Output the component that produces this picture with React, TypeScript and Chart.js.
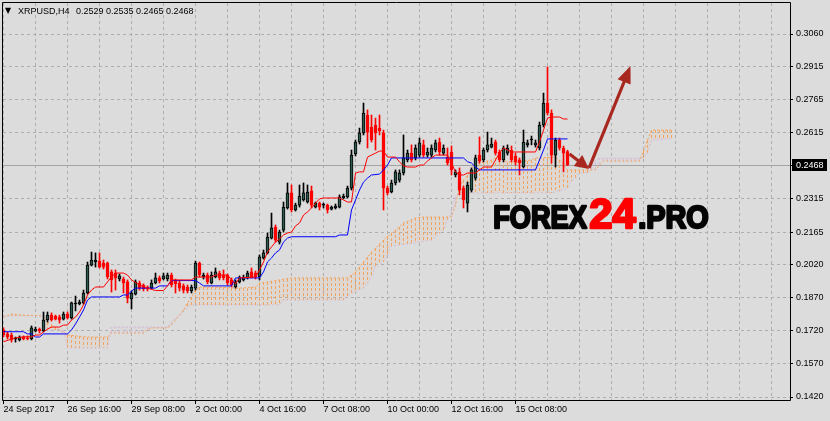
import { useEffect, useRef } from "react";
import { Chart, registerables } from "chart.js";

Chart.register(...registerables);

// ---------- DATA ----------
const symbolName = "XRPUSD,H4";
const timeLabels = ["24 Sep 2017", "26 Sep 16:00", "29 Sep 08:00", "2 Oct 00:00", "4 Oct 16:00", "7 Oct 08:00", "10 Oct 00:00", "12 Oct 16:00", "15 Oct 08:00"];
const timeLabelBars = [0, 16, 32, 48, 64, 80, 96, 112, 128];
const gridBars = [0, 8, 16, 24, 32, 40, 48, 56, 64, 72, 80, 88, 96, 104, 112, 120, 128, 136, 144, 152, 160, 168, 176, 184, 192];
const priceTicks = [0.306, 0.2915, 0.2765, 0.2615, 0.2465, 0.2315, 0.2165, 0.202, 0.187, 0.172, 0.157, 0.142];

const opens = [
  0.1723, 0.1705, 0.1700, 0.1682, 0.1678, 0.1691, 0.1687, 0.1682, 0.1718, 0.1727,
  0.1718, 0.1768, 0.1790, 0.1786, 0.1781, 0.1772, 0.1795, 0.1777, 0.1840, 0.1840,
  0.1845, 0.1890, 0.2016, 0.2030, 0.2034, 0.2025, 0.2025, 0.1985, 0.1980, 0.1953,
  0.1953, 0.1940, 0.1863, 0.1885, 0.1935, 0.1926, 0.1917, 0.1912, 0.1935, 0.1958,
  0.1953, 0.1953, 0.1971, 0.1944, 0.1935, 0.1922, 0.1917, 0.1899, 0.1912, 0.2025,
  0.1962, 0.1971, 0.1935, 0.1962, 0.1980, 0.1971, 0.1971, 0.1949, 0.1917, 0.1940,
  0.1949, 0.1958, 0.1985, 0.1980, 0.1962, 0.2048, 0.2071, 0.2138, 0.2188, 0.2120,
  0.2174, 0.2274, 0.2342, 0.2265, 0.2287, 0.2310, 0.2301, 0.2351, 0.2278, 0.2296,
  0.2287, 0.2287, 0.2269, 0.2274, 0.2278, 0.2319, 0.2324, 0.2364, 0.2518, 0.2572,
  0.2613, 0.2694, 0.2640, 0.2649, 0.2635, 0.2613, 0.2364, 0.2346, 0.2387, 0.2400,
  0.2432, 0.2491, 0.2522, 0.2500, 0.2513, 0.2559, 0.2513, 0.2513, 0.2536, 0.2572,
  0.2522, 0.2504, 0.2527, 0.2423, 0.2437, 0.2364, 0.2296, 0.2355, 0.2409, 0.2513,
  0.2491, 0.2536, 0.2549, 0.2572, 0.2527, 0.2491, 0.2522, 0.2536, 0.2509, 0.2491,
  0.2459, 0.2559, 0.2581, 0.2559, 0.2545, 0.2649, 0.2748, 0.2703, 0.2513, 0.2581,
  0.2545, 0.2529,
];
const highs = [
  0.1732, 0.1714, 0.1709, 0.1691, 0.1696, 0.1696, 0.1696, 0.1741, 0.1736, 0.1732,
  0.1804, 0.1804, 0.1800, 0.1790, 0.1790, 0.1804, 0.1804, 0.1849, 0.1876, 0.1858,
  0.1903, 0.2030, 0.2075, 0.2071, 0.2071, 0.2039, 0.2030, 0.1994, 0.1994, 0.1976,
  0.1962, 0.1949, 0.1899, 0.1949, 0.1944, 0.1931, 0.1922, 0.1949, 0.1980, 0.1967,
  0.1980, 0.1980, 0.1980, 0.1953, 0.1944, 0.1931, 0.1926, 0.1926, 0.2034, 0.2030,
  0.1980, 0.1980, 0.1985, 0.2003, 0.1989, 0.1994, 0.1976, 0.1958, 0.1949, 0.1967,
  0.1971, 0.1989, 0.2003, 0.1989, 0.2062, 0.2084, 0.2161, 0.2251, 0.2197, 0.2174,
  0.2301, 0.2387, 0.2378, 0.2296, 0.2378, 0.2387, 0.2378, 0.2373, 0.2301, 0.2301,
  0.2296, 0.2292, 0.2283, 0.2292, 0.2333, 0.2337, 0.2373, 0.2536, 0.2581, 0.2635,
  0.2748, 0.2717, 0.2694, 0.2680, 0.2694, 0.2626, 0.2373, 0.2400, 0.2446, 0.2446,
  0.2604, 0.2536, 0.2559, 0.2559, 0.2590, 0.2581, 0.2545, 0.2559, 0.2581, 0.2590,
  0.2559, 0.2545, 0.2554, 0.2446, 0.2455, 0.2373, 0.2391, 0.2455, 0.2513, 0.2595,
  0.2545, 0.2617, 0.2590, 0.2581, 0.2536, 0.2554, 0.2559, 0.2554, 0.2522, 0.2500,
  0.2626, 0.2581, 0.2599, 0.2581, 0.2662, 0.2793, 0.2911, 0.2717, 0.2590, 0.2590,
  0.2554, 0.2535,
];
const lows = [
  0.1691, 0.1682, 0.1668, 0.1668, 0.1673, 0.1678, 0.1678, 0.1678, 0.1714, 0.1709,
  0.1714, 0.1759, 0.1763, 0.1768, 0.1754, 0.1768, 0.1772, 0.1772, 0.1809, 0.1836,
  0.1840, 0.1885, 0.2012, 0.2007, 0.2003, 0.1998, 0.1953, 0.1894, 0.1903, 0.1944,
  0.1890, 0.1845, 0.1818, 0.1881, 0.1903, 0.1899, 0.1899, 0.1908, 0.1931, 0.1935,
  0.1949, 0.1944, 0.1917, 0.1890, 0.1899, 0.1890, 0.1890, 0.1890, 0.1903, 0.1962,
  0.1953, 0.1931, 0.1931, 0.1958, 0.1949, 0.1949, 0.1926, 0.1917, 0.1912, 0.1935,
  0.1944, 0.1953, 0.1958, 0.1953, 0.1949, 0.2043, 0.2066, 0.2134, 0.2120, 0.2111,
  0.2165, 0.2269, 0.2256, 0.2260, 0.2278, 0.2305, 0.2296, 0.2274, 0.2274, 0.2265,
  0.2274, 0.2251, 0.2265, 0.2269, 0.2274, 0.2315, 0.2319, 0.2355, 0.2509, 0.2563,
  0.2604, 0.2545, 0.2572, 0.2536, 0.2604, 0.2265, 0.2333, 0.2342, 0.2378, 0.2391,
  0.2423, 0.2482, 0.2482, 0.2491, 0.2504, 0.2504, 0.2504, 0.2504, 0.2527, 0.2513,
  0.2513, 0.2468, 0.2423, 0.2414, 0.2333, 0.2274, 0.2256, 0.2346, 0.2400, 0.2477,
  0.2482, 0.2527, 0.2545, 0.2513, 0.2482, 0.2482, 0.2513, 0.2482, 0.2468, 0.2423,
  0.2455, 0.2549, 0.2559, 0.2549, 0.2536, 0.2640, 0.2694, 0.2477, 0.2459, 0.2536,
  0.2437, 0.2465,
];
const closes = [
  0.1700, 0.1691, 0.1678, 0.1682, 0.1691, 0.1682, 0.1682, 0.1732, 0.1727, 0.1718,
  0.1768, 0.1790, 0.1768, 0.1772, 0.1768, 0.1795, 0.1777, 0.1845, 0.1840, 0.1849,
  0.1890, 0.2016, 0.2039, 0.2039, 0.2007, 0.2007, 0.1962, 0.1949, 0.1958, 0.1967,
  0.1935, 0.1867, 0.1890, 0.1940, 0.1912, 0.1908, 0.1908, 0.1935, 0.1958, 0.1944,
  0.1967, 0.1971, 0.1926, 0.1931, 0.1912, 0.1903, 0.1899, 0.1917, 0.2025, 0.1971,
  0.1971, 0.1940, 0.1971, 0.1985, 0.1958, 0.1958, 0.1935, 0.1926, 0.1940, 0.1958,
  0.1962, 0.1980, 0.1962, 0.1962, 0.2053, 0.2071, 0.2143, 0.2184, 0.2129, 0.2165,
  0.2278, 0.2342, 0.2265, 0.2287, 0.2328, 0.2342, 0.2346, 0.2287, 0.2296, 0.2278,
  0.2287, 0.2265, 0.2278, 0.2283, 0.2324, 0.2328, 0.2364, 0.2513, 0.2572, 0.2613,
  0.2703, 0.2617, 0.2581, 0.2613, 0.2622, 0.2364, 0.2342, 0.2387, 0.2437, 0.2432,
  0.2500, 0.2522, 0.2491, 0.2545, 0.2568, 0.2513, 0.2527, 0.2545, 0.2568, 0.2527,
  0.2545, 0.2477, 0.2446, 0.2437, 0.2355, 0.2310, 0.2378, 0.2446, 0.2500, 0.2486,
  0.2536, 0.2559, 0.2563, 0.2522, 0.2491, 0.2545, 0.2545, 0.2491, 0.2482, 0.2477,
  0.2572, 0.2568, 0.2581, 0.2568, 0.2649, 0.2748, 0.2703, 0.2513, 0.2581, 0.2545,
  0.2522, 0.2468,
];

// Ichimoku lines: [bar index, price] vertices
const tenkanPts: [number, number][] = [
  [0, 0.1670], [3, 0.1687], [5, 0.1692], [7, 0.1692], [8, 0.1700], [9, 0.1700], [10, 0.1714], [11, 0.1727], [12, 0.1736], [14, 0.1736],
  [15, 0.1745], [16, 0.1745], [17, 0.1768], [18, 0.1781], [19, 0.1804], [20, 0.1836], [21, 0.1881], [22, 0.1903], [23, 0.1917], [25, 0.1917],
  [26, 0.1940], [27, 0.1962], [28, 0.1980], [30, 0.1980], [31, 0.1971], [32, 0.1949], [34, 0.1926], [36, 0.1912], [38, 0.1901], [40, 0.1901],
  [41, 0.1922], [42, 0.1949], [47, 0.1949], [48, 0.1962], [52, 0.1962], [53, 0.1971], [56, 0.1971], [57, 0.1949], [58, 0.1931], [59, 0.1958],
  [63, 0.1962], [64, 0.1994], [65, 0.2030], [66, 0.2075], [67, 0.2098], [68, 0.2120], [69, 0.2134], [70, 0.2152], [71, 0.2161], [72, 0.2165],
  [73, 0.2193], [74, 0.2206], [75, 0.2242], [76, 0.2256], [77, 0.2274], [78, 0.2296], [79, 0.2315], [80, 0.2319], [84, 0.2319], [85, 0.2310],
  [86, 0.2301], [87, 0.2301], [88, 0.2432], [89, 0.2437], [90, 0.2437], [91, 0.2504], [92, 0.2513], [93, 0.2522], [94, 0.2531], [95, 0.2531],
  [96, 0.2504], [98, 0.2504], [99, 0.2482], [100, 0.2464], [101, 0.2459], [103, 0.2459], [104, 0.2468], [105, 0.2468], [106, 0.2486], [107, 0.2500],
  [108, 0.2513], [111, 0.2513], [112, 0.2477], [113, 0.2437], [114, 0.2423], [115, 0.2423], [116, 0.2432], [118, 0.2432], [119, 0.2446], [120, 0.2459],
  [122, 0.2459], [123, 0.2491], [124, 0.2522], [125, 0.2545], [126, 0.2536], [127, 0.2527], [133, 0.2527], [134, 0.2572], [135, 0.2626], [136, 0.2680],
  [137, 0.2685], [139, 0.2685], [140, 0.2676], [141, 0.2676],
];
const kijunPts: [number, number][] = [
  [0, 0.1715], [5, 0.1715], [6, 0.1705], [7, 0.1705], [8, 0.1691], [9, 0.1691], [10, 0.1705], [16, 0.1705], [17, 0.1723], [18, 0.1750],
  [19, 0.1781], [20, 0.1813], [21, 0.1858], [22, 0.1872], [29, 0.1872], [30, 0.1881], [31, 0.1881], [32, 0.1899], [33, 0.1912], [38, 0.1912],
  [39, 0.1922], [41, 0.1922], [42, 0.1946], [48, 0.1946], [49, 0.1935], [50, 0.1922], [57, 0.1922], [58, 0.1958], [64, 0.1958], [65, 0.1985],
  [66, 0.2030], [67, 0.2048], [68, 0.2071], [69, 0.2084], [70, 0.2120], [71, 0.2138], [72, 0.2144], [83, 0.2144], [84, 0.2152], [86, 0.2152],
  [87, 0.2265], [88, 0.2310], [89, 0.2355], [90, 0.2391], [91, 0.2409], [92, 0.2423], [94, 0.2427], [95, 0.2446], [96, 0.2468], [97, 0.2500],
  [115, 0.2500], [116, 0.2483], [117, 0.2477], [118, 0.2459], [119, 0.2446], [133, 0.2446], [134, 0.2491], [135, 0.2536], [136, 0.2586], [141, 0.2586],
];
const senkouAPts: [number, number][] = [
  [0, 0.1781], [2, 0.1795], [5, 0.1790], [10, 0.1786], [11, 0.1759], [14, 0.1723], [16, 0.1700], [21, 0.1691], [26, 0.1691], [27, 0.1709],
  [35, 0.1709], [36, 0.1723], [37, 0.1732], [41, 0.1732], [42, 0.1745], [43, 0.1768], [44, 0.1790], [45, 0.1813], [46, 0.1845], [47, 0.1872],
  [48, 0.1903], [49, 0.1917], [52, 0.1917], [59, 0.1912], [63, 0.1917], [64, 0.1935], [66, 0.1940], [69, 0.1949], [72, 0.1958], [86, 0.1958],
  [88, 0.1985], [90, 0.2030], [92, 0.2075], [94, 0.2111], [96, 0.2147], [98, 0.2174], [100, 0.2206], [103, 0.2229], [105, 0.2233], [112, 0.2233],
  [113, 0.2287], [114, 0.2373], [115, 0.2400], [116, 0.2423], [117, 0.2455], [118, 0.2473], [120, 0.2482], [122, 0.2491], [123, 0.2500], [124, 0.2500],
  [125, 0.2491], [126, 0.2482], [129, 0.2482], [132, 0.2491], [133, 0.2500], [138, 0.2504], [139, 0.2491], [140, 0.2473], [141, 0.2446], [148, 0.2446],
  [149, 0.2468], [150, 0.2486], [159, 0.2486], [160, 0.2531], [161, 0.2581], [162, 0.2626], [167, 0.2626],
];
const senkouBPts: [number, number][] = [
  [0, 0.1786], [10, 0.1786], [11, 0.1723], [15, 0.1723], [16, 0.1641], [26, 0.1641], [27, 0.1736], [41, 0.1736], [42, 0.1759], [44, 0.1790],
  [46, 0.1822], [47, 0.1836], [69, 0.1836], [70, 0.1858], [85, 0.1858], [87, 0.1890], [90, 0.1912], [91, 0.1935], [92, 0.1962], [93, 0.2012],
  [95, 0.2030], [96, 0.2057], [97, 0.2102], [103, 0.2116], [107, 0.2129], [110, 0.2174], [111, 0.2220], [112, 0.2265], [113, 0.2324], [114, 0.2342],
  [137, 0.2342], [139, 0.2351], [141, 0.2364], [142, 0.2396], [143, 0.2409], [144, 0.2432], [146, 0.2432], [147, 0.2455], [148, 0.2491], [149, 0.2500],
  [160, 0.2500], [161, 0.2522], [162, 0.2581], [167, 0.2586],
];

// hand-drawn arrows: [fromBar, fromPrice, toBar, toPrice]
const arrowPts: [number, number, number, number][] = [
  [141.5, 0.2518, 146.4, 0.2450],
  [146.4, 0.2455, 156.75, 0.2915],
];
// watermark parts: text, colour
const watermarkParts: [string, string][] = [["FOREX", "#050505"], ["24", "#ff0000"], [".PRO", "#050505"]];

// ---------- STYLE ----------
const BG = "#dcdcdc";
const GRID = "#aeaeae";
const BULL = "#2f5a4f";
const BEAR = "#ff0000";
const ORANGE = "#f4a460";
const THISTLE = "#d8bfd8";
const FONT = '"Liberation Sans", Arial, sans-serif';
// watermark layout per part: left x, target width, font size
const wmLayout = [
  { x: 492, w: 96, size: 32 },
  { x: 588, w: 49, size: 42 },
  { x: 637, w: 73, size: 32 },
];

function toXY(pts: [number, number][]) {
  return pts.map(([x, y]) => ({ x, y }));
}

export default function App() {
  const ref = useRef<HTMLCanvasElement>(null);

  useEffect(() => {
    const canvas = ref.current!;

    const dir = opens.map((o, i) => (closes[i] > o ? 1 : closes[i] < o ? -1 : 0));
    const bodyData = opens.map((o, i) => ({ x: i, y: [o, closes[i]] }));
    const wickData = opens.map((o, i) => ({ x: i, y: [lows[i], highs[i]] }));

    const last = closes.length - 1;
    const cloudFirst = senkouAPts[0][0];
    const cloudLast = senkouAPts[senkouAPts.length - 1][0];

    const overlay = {
      id: "overlay",
      beforeDraw(chart: any) {
        const c = chart.ctx;
        c.save();
        c.fillStyle = BG;
        c.fillRect(0, 0, chart.width, chart.height);
        c.restore();
      },
      beforeDatasetsDraw(chart: any) {
        const c = chart.ctx;
        const a = chart.chartArea;
        const xs = chart.scales.x;
        c.save();
        c.beginPath();
        c.rect(a.left, a.top, a.right - a.left, a.bottom - a.top);
        c.clip();
        // bid line
        const y = Math.round(chart.scales.y.getPixelForValue(closes[last])) + 0.5;
        c.strokeStyle = "#a3a3a3";
        c.lineWidth = 1;
        c.beginPath();
        c.moveTo(a.left, y);
        c.lineTo(a.right, y);
        c.stroke();
        // cloud hatch: vertical dotted lines between span A and span B at each bar
        const lineB = chart.getDatasetMeta(0).dataset;
        const lineA = chart.getDatasetMeta(1).dataset;
        c.setLineDash([3, 2]);
        for (let j = cloudFirst; j <= cloudLast; j++) {
          const px = xs.getPixelForValue(j);
          let pa = lineA.interpolate({ x: px }, "x");
          let pb = lineB.interpolate({ x: px }, "x");
          if (Array.isArray(pa)) pa = pa[0];
          if (Array.isArray(pb)) pb = pb[0];
          if (!pa || !pb) continue;
          c.strokeStyle = pa.y <= pb.y ? ORANGE : THISTLE;
          c.beginPath();
          c.moveTo(px, Math.round(pa.y));
          c.lineTo(px, Math.round(pb.y));
          c.stroke();
        }
        c.restore();
      },
      afterDraw(chart: any) {
        const c = chart.ctx;
        const a = chart.chartArea;
        const xs = chart.scales.x;
        const ys = chart.scales.y;
        c.save();
        // frame
        c.strokeStyle = "#000";
        c.lineWidth = 1;
        c.beginPath();
        c.moveTo(a.left - 0.5, a.top - 0.5);
        c.lineTo(a.right + 0.5, a.top - 0.5);
        c.lineTo(a.right + 0.5, a.bottom + 0.5);
        c.lineTo(a.left - 0.5, a.bottom + 0.5);
        c.closePath();
        c.stroke();

        // current price box
        const py = ys.getPixelForValue(closes[last]);
        c.fillStyle = "#000";
        c.fillRect(a.right + 2, Math.round(py) - 6, 35, 12);
        c.fillStyle = "#fff";
        c.font = `9px ${FONT}`;
        c.textBaseline = "middle";
        c.textAlign = "left";
        c.fillText(closes[last].toFixed(4), a.right + 6, Math.round(py) + 0.5);

        // header
        c.fillStyle = "#000";
        c.textBaseline = "alphabetic";
        c.font = '8px "DejaVu Sans"';
        c.fillText("\u25BC", 5, 13);
        c.font = `9px ${FONT}`;
        c.fillText(symbolName, 18, 13.5);
        const ohlc = [opens[last], highs[last], lows[last], closes[last]].map((v) => v.toFixed(4)).join(" ");
        c.fillText(ohlc, 76, 13.5);

        // arrows
        c.fillStyle = "#a8281f";
        c.strokeStyle = "#a8281f";
        arrowPts.forEach(([b1, p1, b2, p2], k) => {
          const x1 = xs.getPixelForValue(b1), y1 = ys.getPixelForValue(p1);
          const x2 = xs.getPixelForValue(b2), y2 = ys.getPixelForValue(p2);
          const ang = Math.atan2(y2 - y1, x2 - x1);
          const hl = k === 0 ? 14 : 17;
          const hw = 7;
          const bx = x2 - hl * Math.cos(ang), by = y2 - hl * Math.sin(ang);
          c.lineWidth = 3.2;
          c.beginPath();
          c.moveTo(x1, y1);
          c.lineTo(bx + 2 * Math.cos(ang), by + 2 * Math.sin(ang));
          c.stroke();
          c.beginPath();
          c.moveTo(x2, y2);
          c.lineTo(bx + hw * Math.sin(ang), by - hw * Math.cos(ang));
          c.lineTo(bx - hw * Math.sin(ang), by + hw * Math.cos(ang));
          c.closePath();
          c.fill();
        });

        // watermark
        c.lineJoin = "round";
        c.lineWidth = 2.4;
        c.textBaseline = "alphabetic";
        watermarkParts.forEach(([t, col], i) => {
          const L = wmLayout[i];
          c.save();
          c.font = `bold ${L.size}px ${FONT}`;
          const w = c.measureText(t).width;
          c.translate(L.x + 1.2, 228);
          c.scale((L.w - 2.4) / w, 1);
          c.fillStyle = col;
          c.strokeStyle = col;
          c.fillText(t, 0, 0);
          c.strokeText(t, 0, 0);
          c.restore();
        });
        c.restore();
      },
    };

    const chart = new Chart(canvas, {
      type: "line",
      data: {
        datasets: [
          {
            type: "line",
            data: toXY(senkouBPts),
            borderColor: THISTLE,
            borderWidth: 1,
            borderDash: [2, 2],
            pointRadius: 0,
            fill: false,
            order: 5,
            clip: 0,
          } as any,
          {
            type: "line",
            data: toXY(senkouAPts),
            borderColor: ORANGE,
            borderWidth: 1,
            borderDash: [2, 2],
            pointRadius: 0,
            fill: { target: 0, above: "rgba(244,164,96,0.07)", below: "rgba(216,191,216,0.12)" },
            order: 4,
            clip: 0,
          } as any,
          {
            type: "bar",
            data: wickData,
            backgroundColor: dir.map((d) => (d < 0 ? BEAR : "#000")),
            borderWidth: 0,
            barThickness: 1,
            grouped: false,
            minBarLength: 1,
            order: 3,
            clip: 0,
          } as any,
          {
            type: "bar",
            data: bodyData,
            backgroundColor: dir.map((d) => (d > 0 ? BULL : d < 0 ? BEAR : "#000")),
            borderColor: dir.map((d) => (d < 0 ? BEAR : "#000")),
            borderWidth: 1,
            borderSkipped: false,
            barThickness: 3,
            grouped: false,
            minBarLength: 1,
            order: 2,
            clip: 0,
          } as any,
          {
            type: "line",
            data: toXY(kijunPts),
            borderColor: "#0000ff",
            borderWidth: 1,
            pointRadius: 0,
            fill: false,
            order: 1,
            clip: 0,
          } as any,
          {
            type: "line",
            data: toXY(tenkanPts),
            borderColor: "#ff0000",
            borderWidth: 1,
            pointRadius: 0,
            fill: false,
            order: 0,
            clip: 0,
          } as any,
        ],
      },
      options: {
        responsive: false,
        animation: false,
        devicePixelRatio: 1,
        events: [],
        layout: { padding: { left: 3, top: 3, right: 0, bottom: 0 } },
        plugins: {
          legend: { display: false },
          tooltip: { enabled: false },
        },
        scales: {
          x: {
            type: "linear",
            min: -0.125,
            max: 196.625,
            offset: false,
            bounds: "data",
            afterBuildTicks: (s: any) => {
              s.ticks = gridBars.map((v) => ({ value: v }));
            },
            afterFit: (s: any) => {
              s.height = 21;
              s.paddingLeft = 0;
              s.paddingRight = 0;
            },
            ticks: {
              autoSkip: false,
              maxRotation: 0,
              minRotation: 0,
              align: "start",
              padding: 0,
              color: "#000",
              font: { family: FONT, size: 9 },
              callback: (v: any) => {
                const k = timeLabelBars.indexOf(Number(v));
                return k >= 0 ? timeLabels[k] : "";
              },
            },
            grid: {
              offset: false,
              color: GRID,
              lineWidth: 1,
              drawTicks: true,
              tickLength: 4,
              tickBorderDash: [],
              tickColor: (ctx: any) =>
                ctx.tick && timeLabelBars.indexOf(ctx.tick.value) >= 0 ? "#000" : "rgba(0,0,0,0)",
            },
            border: { display: false, dash: [3, 3] },
          } as any,
          y: {
            type: "linear",
            position: "right",
            min: 0.140645,
            max: 0.320006,
            bounds: "data",
            afterBuildTicks: (s: any) => {
              s.ticks = priceTicks.map((v) => ({ value: v }));
            },
            afterFit: (s: any) => {
              s.width = 40;
              s.paddingTop = 0;
              s.paddingBottom = 0;
            },
            ticks: {
              padding: 3,
              color: "#000",
              font: { family: FONT, size: 9 },
              callback: (v: any) => Number(v).toFixed(4),
            },
            grid: {
              color: GRID,
              lineWidth: 1,
              drawTicks: true,
              tickLength: 3,
              tickBorderDash: [],
              tickColor: "#000",
            },
            border: { display: false, dash: [3, 3] },
          } as any,
        },
      },
      plugins: [overlay],
    } as any);

    return () => chart.destroy();
  }, []);

  return (
    <div style={{ position: "fixed", left: 0, top: 0, width: 830, height: 421 }}>
      <canvas ref={ref} width={830} height={421} style={{ display: "block", width: 830, height: 421 }} />
    </div>
  );
}
